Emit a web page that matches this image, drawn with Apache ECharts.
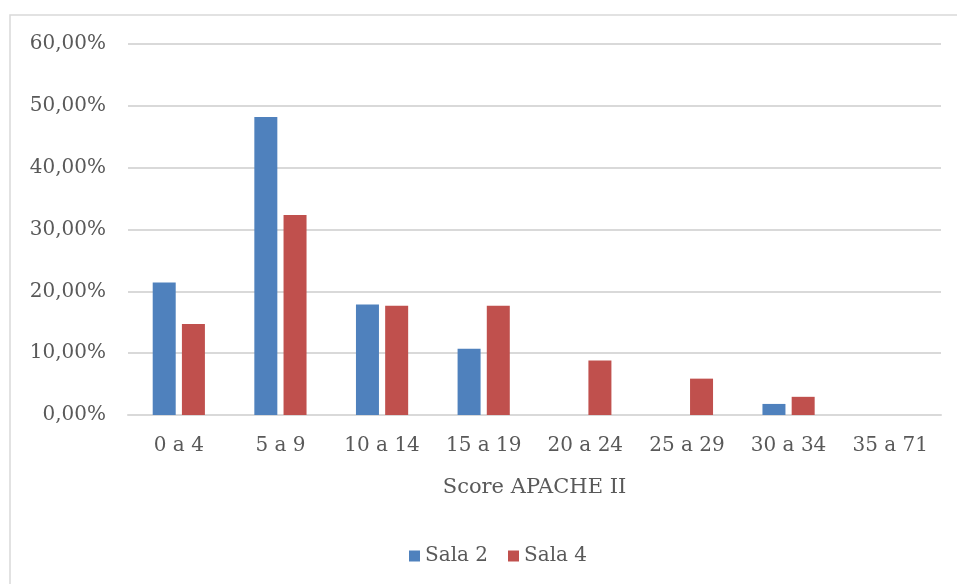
<!DOCTYPE html>
<html>
<head>
<meta charset="utf-8">
<script src="https://cdn.jsdelivr.net/npm/echarts@6/dist/echarts.min.js"></script>
<style>
  html, body { margin: 0; padding: 0; background: #fff; }
  #main { width: 957px; height: 584px; }
</style>
</head>
<body>
<div id="main"></div>
<script>
var categories = ['0 a 4', '5 a 9', '10 a 14', '15 a 19', '20 a 24', '25 a 29', '30 a 34', '35 a 71'];
var sala2 = [21.43, 48.21, 17.86, 10.71, 0, 0, 1.79, 0];
var sala4 = [14.71, 32.35, 17.65, 17.65, 8.82, 5.88, 2.94, 0];
var yTicks = [0, 10, 20, 30, 40, 50, 60];

var myChart = echarts.init(document.getElementById('main'));

function pct(v) {
  return v.toFixed(2).replace('.', ',') + '%';
}

var font = 'DejaVu Serif';

var option = {
  backgroundColor: '#fff',
  animation: false,
  graphic: [{
    type: 'rect',
    shape: { x: 10, y: 15, width: 960, height: 600 },
    style: { fill: 'none', stroke: '#d9d9d9', lineWidth: 1.5 }
  }],
  grid: { left: 128, right: 16, top: 44, bottom: 169 },
  legend: {
    left: 404,
    top: 541,
    itemWidth: 11,
    itemHeight: 11,
    itemGap: 20,
    icon: 'rect',
    textStyle: { fontFamily: font, fontSize: 20, color: '#595959' },
    data: ['Sala 2', 'Sala 4']
  },
  xAxis: {
    type: 'category',
    data: categories,
    name: 'Score APACHE II',
    nameLocation: 'middle',
    nameGap: 62,
    nameTextStyle: { fontFamily: font, fontSize: 21, color: '#595959' },
    axisLine: { lineStyle: { color: '#d9d9d9', width: 2 } },
    axisTick: { show: false },
    axisLabel: { margin: 21, fontFamily: font, fontSize: 20, color: '#595959' }
  },
  yAxis: {
    type: 'value',
    min: yTicks[0],
    max: yTicks[yTicks.length - 1],
    interval: 10,
    axisLine: { show: false },
    axisTick: { show: false },
    splitLine: { lineStyle: { color: '#d9d9d9', width: 2 } },
    axisLabel: {
      margin: 22,
      fontFamily: font,
      fontSize: 20,
      color: '#595959',
      formatter: function (v) { return pct(v); }
    }
  },
  series: [
    {
      name: 'Sala 2',
      type: 'bar',
      data: sala2,
      barWidth: 23,
      barGap: '27%',
      itemStyle: { color: '#4f81bd' }
    },
    {
      name: 'Sala 4',
      type: 'bar',
      data: sala4,
      barWidth: 23,
      itemStyle: { color: '#c0504d' }
    }
  ]
};
myChart.setOption(option);
</script>
</body>
</html>
